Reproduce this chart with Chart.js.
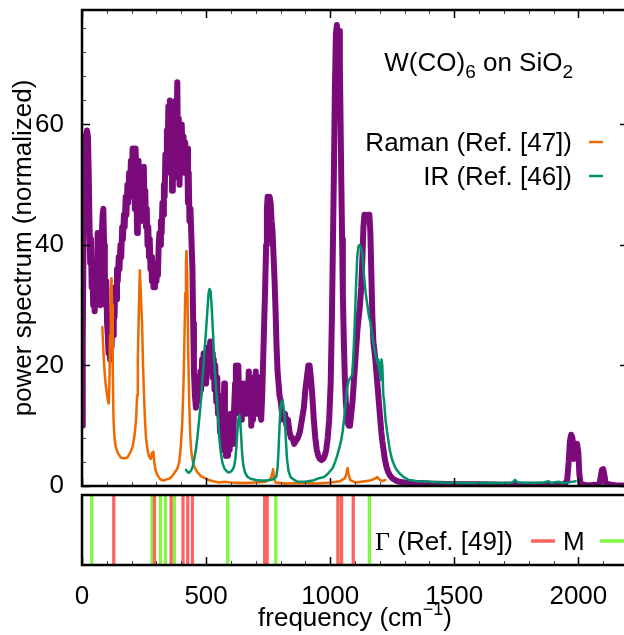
<!DOCTYPE html>
<html>
<head>
<meta charset="utf-8">
<script src="https://cdn.jsdelivr.net/npm/chart.js@4.4.1/dist/chart.umd.min.js"></script>
<style>
  html, body { margin: 0; padding: 0; background: #fff; overflow: hidden; width: 624px; height: 635px; }
  canvas { position: absolute; left: 0; }
  #spectrum { top: 0; }
  #modes { top: 488px; }
</style>
</head>
<body>
<canvas id="spectrum" width="650" height="500" style="width:650px;height:500px"></canvas>
<canvas id="modes" width="650" height="147" style="width:650px;height:147px"></canvas>
<script>
// ---- data -------------------------------------------------------------
// Power spectrum of W(CO)6 on SiO2 (normalized), frequency in cm^-1
const specFreq = [0,3,6,10,15,20,24,27,30,33,36,39,42,45,48,51,54,57,60,63,66,68,71,74,77,80,83,86,89,92,95,98,101,104,107,110,113,116,119,122,125,128,131,134,137,141,144,148,151,155,158,162,165,169,172,176,179,183,186,190,193,197,200,204,207,210,213,216,219,222,225,228,231,234,237,240,243,246,249,252,255,258,261,264,267,270,273,276,279,282,285,288,291,294,297,300,303,306,309,312,315,318,321,324,327,330,333,336,339,342,345,348,351,354,357,360,363,366,369,372,375,378,381,384,387,390,393,396,399,402,405,409,412,416,420,424,427,430,433,437,441,445,448,451,455,459,463,466,470,473,477,480,484,487,490,494,497,500,504,507,510,513,517,520,524,527,531,534,537,541,545,548,552,556,559,563,566,570,573,576,580,584,588,591,595,599,602,606,609,613,617,620,624,627,630,634,637,641,644,648,651,655,658,662,665,668,672,675,679,682,686,689,693,696,700,703,707,711,714,718,722,726,730,734,738,742,745,748,752,756,760,764,768,772,776,780,784,788,792,796,801,806,812,818,824,830,836,842,848,855,862,870,878,886,894,900,906,912,917,922,928,934,940,946,952,958,965,972,978,984,990,996,1002,1007,1011,1015,1019,1023,1027,1030,1033,1036,1039,1042,1045,1048,1051,1055,1059,1063,1067,1071,1075,1080,1085,1090,1095,1100,1105,1110,1115,1120,1125,1130,1134,1138,1143,1148,1153,1158,1162,1166,1170,1174,1178,1182,1186,1190,1194,1198,1202,1206,1210,1215,1220,1226,1233,1240,1250,1265,1280,1300,1350,1400,1500,1600,1700,1800,1900,1945,1955,1961,1966,1971,1976,1981,1986,1990,1995,2000,2004,2009,2040,2085,2090,2095,2100,2105,2110,2150,2200];
const specPower = [10,24,40,52,58,59,58,52,44,37,41,33,36,30,33,29,31,37,33,42,39,31,35,30,33,42,45,46,40,33,30,34,27,25,22,26,21,25,23,27,25,31,28,33,31,36,34,38,36,40,38,43,41,45,43,48,45,50,47,52,48,54,50,56,52,55,46,56,51,42,48,54,47,44,50,45,52,47,53,46,49,43,46,40,43,38,41,36,38,34,37,33,36,33,36,34,37,35,40,42,40,44,42,47,45,50,48,55,52,59,55,63,57,64,52,60,49,57,51,60,55,64,58,67,53,61,50,58,54,60,53,58,52,57,52,56,47,52,44,46,41,36,27,19,15,13,17,14,18,15,19,16,21,18,22,19,21,17,20,23,19,22,24,20,22,18,21,16,20,14,18,12,15,9,13,8,11,6,17,8,5,7,5,8,6,12,8,11,7,13,17,20,14,19,20,12,15,11,16,12,17,14,16,12,17,14,19,13,18,10,15,11,18,14,19,12,18,14,18,12,11,15,21,27,33,40,46,48,47,48,47,44,42,38,34,29,23,19,17,15,14,12,11,12,10,11,9,8,8,7,7.5,8,9,11,13,16,18,20,20,18,15,11,8,6,5,4.5,4.3,4.5,5,6,8,11,17,28,40,52,66,75,76.5,75,74,75.5,70,60,50,41,32,24,18,14,12,10.5,10,10,12,14,17,20,23,26,28,30,33,38,43,45,45,44.5,45,45,42,35,28,24,22.5,21,19,17,15,13,11,9,7.5,6,4.5,3.3,2.4,1.8,1.3,0.9,0.7,0.6,0.5,0.4,0.3,0.3,0.2,0.2,0.2,0.3,1,4,7.5,8.5,8,4.5,5.5,7,7,5.5,2,0.3,0.1,0.3,1.5,2.7,2.8,1.8,0.4,0.1,0.1];

// Raman spectrum (Ref. [47])
const ramanFreq = [82,86,90,95,100,105,108,111,113,116,119,121,124,127,131,136,144,155,164,175,184,195,204,212,218,222,225,229,233,236,239,242,246,251,255,258,264,271,277,282,285,288,291,296,304,312,320,330,340,350,360,368,376,384,392,398,404,409,413,416,419,421,424,428,432,436,440,446,452,465,480,495,510,530,550,575,600,650,700,740,760,766,770,774,780,820,880,950,1000,1040,1060,1066,1070,1074,1080,1100,1140,1160,1180,1190,1200,1210,1222];
const ramanInt  = [26.4,22.5,19.5,17,15.4,14,13.7,18,25,32,34.5,30,19,11,8,6.5,5.5,4.8,4.6,4.6,4.8,5.6,6.5,8.5,11,15,21,29,35.8,33,30,27,20,13.8,10,8,6,4.8,4.5,5.5,4.8,5.7,4,2.7,1.8,1.3,1.0,0.9,1.1,1.2,1.5,1.9,2.4,2.9,4,6.5,10.5,17,25,32,37,39,35,22,14,8.5,5.8,4.2,3.2,2.3,1.6,1.3,1.0,0.8,0.6,0.7,0.6,0.5,0.6,0.7,1.2,2.0,2.8,1.2,0.6,0.4,0.5,0.4,0.6,0.8,1.3,2.2,3.0,2.0,1.0,0.6,0.8,0.9,1.2,1.5,1.0,0.8,1.0];

// IR spectrum (Ref. [46])
const irFreq = [419,425,432,440,446,452,459,466,473,480,486,492,499,505,510,514,518,522,526,530,534,539,544,549,553,559,566,575,587,597,607,613,618,622,626,630,634,637,641,645,650,657,667,680,700,720,740,760,775,783,788,792,796,800,804,808,812,817,821,826,832,840,855,870,900,930,955,975,990,1000,1010,1020,1028,1036,1044,1050,1056,1062,1068,1075,1083,1089,1094,1099,1104,1109,1114,1119,1124,1130,1136,1143,1150,1157,1163,1170,1177,1184,1190,1194,1197,1200,1203,1207,1210,1214,1217,1223,1230,1240,1250,1263,1277,1295,1317,1350,1400,1450,1500,1550,1600,1650,1700,1735,1745,1755,1800,1860,1880,1890,1920,1935,1960,1989];
const irInt  = [2.7,2.3,2.2,2.6,3.2,4.5,6,8.5,11.4,14.5,18,21.5,25.3,29,32,32.7,32.3,30,27,23.5,20,17,14,11,8.1,5.6,3.8,2.8,2.3,2.3,2.7,3.3,4.5,6.5,9,11,11.8,11,8.5,5.5,3.4,2.2,1.5,1.2,1.0,0.9,0.9,1.0,1.2,1.6,3,6,10,13,14,14.2,13,11.5,8,4.5,2.5,1.5,1.0,0.7,0.7,0.9,1.3,1.5,2,2.5,3,4,5,6.2,7.5,9,11,13.5,16.3,17.5,18,18.5,22,27,33,38,39.8,40,39.5,38.5,35,32,30,28,27,25,23,21.5,20.4,21,19,20.5,17.6,21,20,15,14.3,11,8.8,6,4.3,3,2.2,1.5,1.0,0.8,0.7,0.6,0.55,0.5,0.5,0.55,0.5,0.6,1.0,0.6,0.5,0.6,0.8,0.5,0.7,0.5,0.6,0.8];

// Computed phonon modes (Ref. [49]) at Gamma and M
const gammaFreq = [128,292,359,407,426,445,736,746,1031,1046,1093];
const mFreq     = [39,282,316,336,372,587,781,1040,1158];

// axis ticks
const freqTicks = [0, 500, 1000, 1500, 2000];
const powerTicks = [0, 20, 40, 60];

// ---- styling ------------------------------------------------------------
const FONT = "'Liberation Sans', Arial, Helvetica, sans-serif";
const SERIF = "'Liberation Serif', 'Times New Roman', serif";
const PURPLE = '#7b0b7b';
const ORANGE = '#ee6a00';
const GREEN = '#00906a';
const RED = '#ff6262';
const LIME = '#80f840';
const FREQ_MAX = 2200;

const toXY = (xs, ys) => xs.map((x, i) => ({ x, y: ys[i] }));

// gnuplot-style frame with inward ticks
const panelFrame = {
  id: 'panelFrame',
  afterDatasetsDraw(chart, args, opts) {
    const { ctx, chartArea: a, scales } = chart;
    ctx.save();
    const tick = (x1, y1, x2, y2, major) => {
      ctx.beginPath();
      ctx.strokeStyle = major ? '#000' : '#444';
      ctx.lineWidth = major ? 1.5 : 1;
      ctx.moveTo(x1, y1); ctx.lineTo(x2, y2); ctx.stroke();
    };
    const xs = scales.x;
    for (let v = 0; v <= FREQ_MAX; v += 100) {
      const px = Math.round(xs.getPixelForValue(v)) + 0.5;
      const major = freqTicks.includes(v);
      const len = major ? 8 : 4;
      if (opts.xBottom) tick(px, a.bottom, px, a.bottom - len, major);
      if (opts.xTop) tick(px, a.top, px, a.top + len, major);
    }
    if (opts.yTicks) {
      const ys = scales.y;
      for (let v = 0; v <= ys.max; v += 4) {
        const py = Math.round(ys.getPixelForValue(v)) + 0.5;
        const major = powerTicks.includes(v);
        const len = major ? 8 : 4;
        tick(a.left, py, a.left + len, py, major);
        tick(a.right, py, a.right - len, py, major);
      }
    }
    ctx.strokeStyle = '#000';
    ctx.lineWidth = 2.5;
    ctx.strokeRect(a.left, a.top, a.right - a.left, a.bottom - a.top);
    ctx.restore();
  }
};

// text runs with sub/superscripts
function drawRich(ctx, parts, x, y, align) {
  let w = 0;
  for (const p of parts) {
    ctx.font = `${p.size}px ${p.family || FONT}`;
    p.w = ctx.measureText(p.t).width;
    w += p.w;
  }
  let cx = align === 'right' ? x - w : align === 'center' ? x - w / 2 : x;
  ctx.textAlign = 'left';
  ctx.textBaseline = 'alphabetic';
  for (const p of parts) {
    ctx.font = `${p.size}px ${p.family || FONT}`;
    ctx.fillText(p.t, cx, y + (p.dy || 0));
    cx += p.w;
  }
  return cx;
}

function sample(ctx, x1, x2, y, color, width) {
  ctx.beginPath();
  ctx.strokeStyle = color;
  ctx.lineWidth = width;
  ctx.moveTo(x1, y); ctx.lineTo(x2, y); ctx.stroke();
}

const spectrumKey = {
  id: 'spectrumKey',
  afterDraw(chart) {
    const ctx = chart.ctx;
    ctx.save();
    ctx.fillStyle = '#000';
    drawRich(ctx, [
      { t: 'W(CO)', size: 26 },
      { t: '6', size: 19, dy: 7 },
      { t: ' on SiO', size: 26 },
      { t: '2', size: 19, dy: 7 }
    ], 573, 71, 'right');
    drawRich(ctx, [{ t: 'Raman (Ref. [47])', size: 26 }], 572, 151, 'right');
    drawRich(ctx, [{ t: 'IR (Ref. [46])', size: 26 }], 572, 185, 'right');
    sample(ctx, 589, 603, 142, ORANGE, 2.5);
    sample(ctx, 589, 603, 176, GREEN, 2.5);
    ctx.restore();
  }
};

const modesKey = {
  id: 'modesKey',
  afterDraw(chart) {
    const ctx = chart.ctx;
    ctx.save();
    ctx.fillStyle = '#000';
    const base = 62;
    drawRich(ctx, [
      { t: 'Γ', size: 26, family: SERIF },
      { t: ' (Ref. [49])', size: 26 }
    ], 375, base, 'left');
    sample(ctx, 531, 555, 53, RED, 3.5);
    drawRich(ctx, [{ t: 'M', size: 26 }], 563, base, 'left');
    sample(ctx, 600, 624, 53, LIME, 3.5);
    // x-axis title with superscript
    const a = chart.chartArea;
    drawRich(ctx, [
      { t: 'frequency (cm', size: 26 },
      { t: '−1', size: 18, dy: -11 },
      { t: ')', size: 26 }
    ], (a.left + a.right) / 2, 138, 'center');
    ctx.restore();
  }
};

const lineStyle = { pointRadius: 0, tension: 0, borderJoinStyle: 'round', borderCapStyle: 'round', fill: false };

new Chart(document.getElementById('spectrum'), {
  type: 'line',
  data: {
    datasets: [
      { label: 'power spectrum', data: toXY(specFreq, specPower), borderColor: PURPLE, borderWidth: 6, order: 2, ...lineStyle },
      { label: 'Raman (Ref. [47])', data: toXY(ramanFreq, ramanInt), borderColor: ORANGE, borderWidth: 2.5, order: 1, ...lineStyle },
      { label: 'IR (Ref. [46])', data: toXY(irFreq, irInt), borderColor: GREEN, borderWidth: 2.5, order: 0, ...lineStyle }
    ]
  },
  options: {
    responsive: false,
    animation: false,
    devicePixelRatio: 1,
    layout: { padding: { top: 10, right: 22, bottom: 14, left: 0 } },
    plugins: { legend: { display: false }, tooltip: { enabled: false }, panelFrame: { xTop: true, xBottom: true, yTicks: true } },
    scales: {
      x: { type: 'linear', min: 0, max: FREQ_MAX, display: false },
      y: {
        type: 'linear', min: 0, max: 79,
        afterFit(s) { s.width = 82; s.paddingTop = 0; s.paddingBottom = 0; },
        afterBuildTicks(s) { s.ticks = powerTicks.map(v => ({ value: v })); },
        grid: { display: false },
        border: { display: false },
        ticks: { color: '#000', font: { family: FONT, size: 26 }, padding: 10 },
        title: { display: true, text: 'power spectrum (normalized)', color: '#000', font: { family: FONT, size: 26 }, padding: { top: 8, bottom: 0 } }
      }
    }
  },
  plugins: [panelFrame, spectrumKey]
});

new Chart(document.getElementById('modes'), {
  type: 'bar',
  data: {
    datasets: [
      { label: 'Γ (Ref. [49])', data: gammaFreq.map(f => ({ x: f, y: 1 })), backgroundColor: RED, barThickness: 2.6, grouped: false },
      { label: 'M', data: mFreq.map(f => ({ x: f, y: 1 })), backgroundColor: LIME, barThickness: 2.6, grouped: false }
    ]
  },
  options: {
    responsive: false,
    animation: false,
    devicePixelRatio: 1,
    layout: { padding: { top: 7, right: 22, bottom: 0, left: 0 } },
    plugins: { legend: { display: false }, tooltip: { enabled: false }, panelFrame: { xTop: false, xBottom: true, yTicks: false } },
    scales: {
      x: {
        type: 'linear', min: 0, max: FREQ_MAX, offset: false,
        afterFit(s) { s.height = 70; s.paddingLeft = 0; s.paddingRight = 0; },
        afterBuildTicks(s) { s.ticks = freqTicks.map(v => ({ value: v })); },
        grid: { display: false },
        border: { display: false },
        ticks: { color: '#000', font: { family: FONT, size: 26 }, padding: 8, maxRotation: 0, autoSkip: false, callback: v => String(v) }
      },
      y: {
        min: 0, max: 1,
        afterFit(s) { s.width = 82; s.paddingTop = 0; s.paddingBottom = 0; },
        grid: { display: false },
        border: { display: false },
        ticks: { display: false }
      }
    }
  },
  plugins: [panelFrame, modesKey]
});
</script>
</body>
</html>
